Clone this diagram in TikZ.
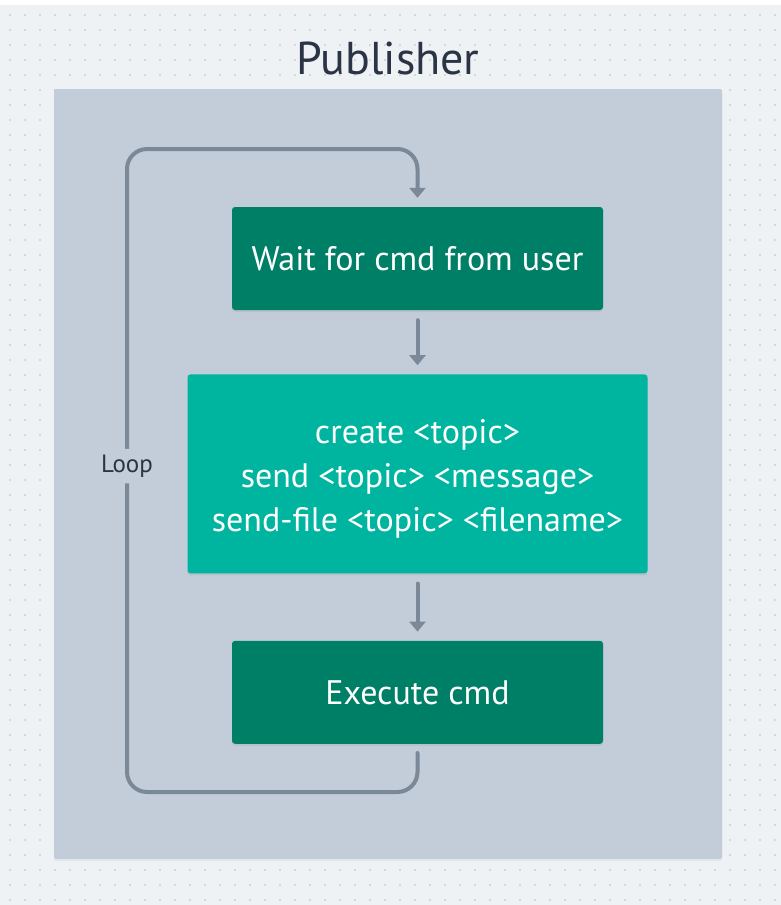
\documentclass[tikz,border=0pt]{standalone}
\usepackage{fontspec}
\setmainfont{PT Sans}
\usetikzlibrary{arrows.meta, positioning, shadows}

\definecolor{bgcol}{HTML}{EEF2F5}
\definecolor{dotcol}{HTML}{B7BFC8}
\definecolor{panelcol}{HTML}{C2CDD9}
\definecolor{darkgreen}{HTML}{007F67}
\definecolor{lightgreen}{HTML}{00B5A0}
\definecolor{arrowcol}{HTML}{7A8898}
\definecolor{textcol}{HTML}{2B3445}

\begin{document}
\begin{tikzpicture}[x=1pt,y=-1pt,>={Triangle[width=16pt,length=10pt]},
 node distance=64pt,
 cmd node/.style={rectangle,rounded corners=3pt,inner sep=0pt,text=white,
   font=\fontsize{34}{44}\selectfont,align=center,
   drop shadow={shadow xshift=0pt,shadow yshift=-2pt,opacity=0.15}},
 flow/.style={->,line width=4pt,line cap=round,arrowcol}]
% background and dot grid
\fill[bgcol] (0,0) rectangle (781,905);
\fill[white] (0,0) rectangle (781,5);
\foreach \i in {0,...,51}
  \foreach \j in {1,...,60}
    \fill[dotcol] ({10+15*\i},{15*\j}) circle (0.8);
% panel
\fill[panelcol,rounded corners=2pt,
  drop shadow={shadow xshift=0pt,shadow yshift=-2pt,opacity=0.08}]
  (54,89) rectangle (722,859);
\node[anchor=base,text=textcol,font=\fontsize{46}{52}\selectfont](title) at (388,74){Publisher};

\node[cmd node,fill=darkgreen,minimum width=371pt,minimum height=103pt](wait) at (417.5,258.5){Wait for cmd from user};
\node[cmd node,fill=lightgreen,minimum width=460pt,minimum height=199pt](cmds)[below=64pt of wait]
  {\rule{0pt}{34pt}create <topic>\\send <topic> <message>\\send-file <topic> <filename>};
\node[cmd node,fill=darkgreen,minimum width=371pt,minimum height=103pt](exec)[below=67pt of cmds]{Execute cmd};

\coordinate (loopb) at (127,792);
\coordinate (loopt) at (127,149);

\path[flow,shorten <=10pt,shorten >=9pt]
  (wait) edge (cmds)
  (cmds) edge (exec);
\draw[flow,rounded corners=20pt,shorten <=9pt,shorten >=9pt]
  (exec.south) |- (loopb)
  -- node[pos=0.507,fill=panelcol,text=textcol,inner sep=6pt,
          font=\fontsize{25}{28}\selectfont]{Loop} (loopt)
  -| (wait.north);
\end{tikzpicture}
\end{document}
